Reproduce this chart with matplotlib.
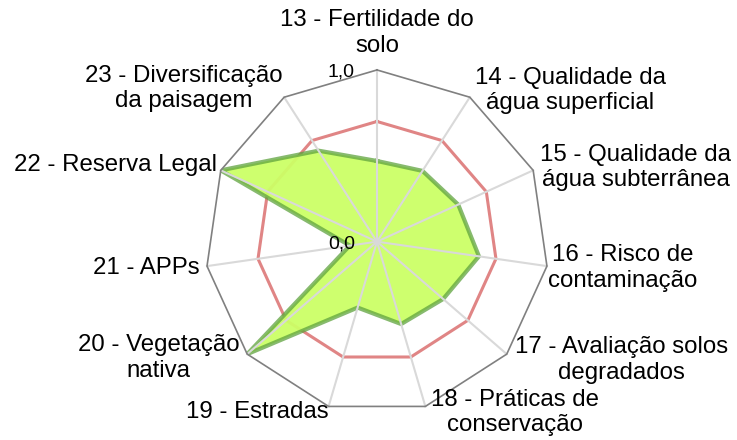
import numpy as np
import matplotlib
matplotlib.use("Agg")
import matplotlib.pyplot as plt

plt.rcParams['font.family'] = ['Liberation Sans', 'DejaVu Sans']

# indicadores (eixos do radar)
categorias = ['13 - Fertilidade do\nsolo', '14 - Qualidade da\nágua superficial',
              '15 - Qualidade da\nágua subterrânea', '16 - Risco de\ncontaminação',
              '17 - Avaliação solos\ndegradados', '18 - Práticas de\nconservação',
              '19 - Estradas', '20 - Vegetação\nnativa', '21 - APPs',
              '22 - Reserva Legal', '23 - Diversificação\nda paisagem']
# índices obtidos
valores = [0.47, 0.49, 0.52, 0.60, 0.51, 0.50, 0.40, 1.0, 0.16, 1.0, 0.63]
# linha de referência
referencia = [0.7, 0.7, 0.7, 0.7, 0.7, 0.7, 0.7, 0.7, 0.7, 0.7, 0.7]
# rótulos do eixo radial
rotulos_r = [0.0, 1.0]

# posição dos rótulos: (alinhamento horizontal, deslocamento x, y em pixels)
pos_rotulos = [('center', 0, 37), ('left', 5, 7), ('left', 7, 3), ('left', 1, -2),
               ('left', 8, -6), ('left', 6, -6), ('right', 0, -6), ('right', -8, -4),
               ('right', -7, -2), ('right', -4, 5), ('right', -2, 9)]

n = len(categorias)
angulos = np.linspace(0, 2 * np.pi, n, endpoint=False)
ang_f = np.append(angulos, angulos[0])

fig = plt.figure(figsize=(7.37, 4.40), dpi=100)
ax = fig.add_axes([0.2785, 0.0605, 0.466, 0.7805], projection='polar')
ax.set_theta_offset(np.pi / 2)
ax.set_theta_direction(-1)
ax.set_ylim(0, 1)
ax.grid(False)
ax.spines['polar'].set_visible(False)
ax.set_xticks([])
ax.set_yticks([])
ax.patch.set_alpha(0)

# referência
ax.plot(ang_f, referencia + [referencia[0]], color='#E08585', lw=2.2, zorder=1)

# série
ax.fill(ang_f, valores + [valores[0]], color='#CCFF66', alpha=0.95, zorder=2, lw=0)
ax.plot(ang_f, valores + [valores[0]], color='#5FA33E', alpha=0.75, lw=3, zorder=3)

# grade
for a in angulos:
    ax.plot([a, a], [0, 1], color='#D9D9D9', lw=1.5, zorder=4, clip_on=False)
ax.plot(ang_f, [1] * (n + 1), color='#808080', lw=1.2, zorder=5, clip_on=False)

for v in rotulos_r:
    ax.annotate(f'{v:.1f}'.replace('.', ','), xy=(0, v), xytext=(-22, -2),
                textcoords='offset pixels', ha='right', va='center', fontsize=14,
                zorder=10)

for a, lab, (ha, dx, dy) in zip(angulos, categorias, pos_rotulos):
    ax.annotate(lab, xy=(a, 1), xytext=(dx, dy), textcoords='offset pixels',
                ha=ha, va='center', multialignment='center', fontsize=17.3,
                annotation_clip=False, zorder=10)

fig.savefig('out.png', dpi=100)
